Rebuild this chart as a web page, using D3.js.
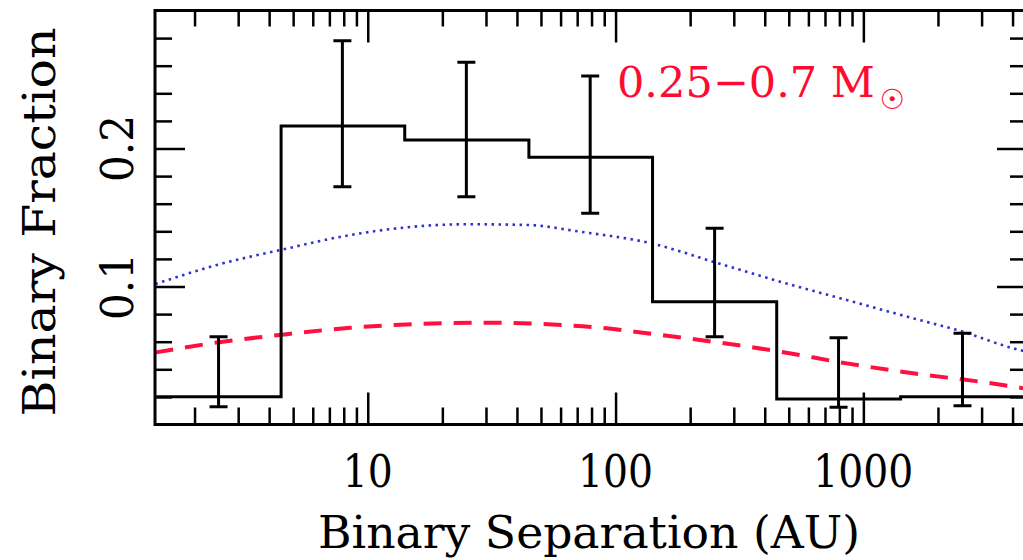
<!DOCTYPE html>
<html>
<head>
<script src="https://d3js.org/d3.v7.min.js"></script>
<style>
    body { margin: 0; background-color: #ffffff; }
    svg { display: block; }
    text { font-family: "DejaVu Serif", serif; fill: #000; }
</style>
</head>
<body>
<div id="chart"></div>
<script>
// histogram: bin edges (AU) and binary fraction per bin
const binEdges = [1.4, 4.47, 14.1, 44.7, 141, 447, 1413, 4470];
const binFrac = [0.0201, 0.2163, 0.2062, 0.1936, 0.0890, 0.0185, 0.0201];

// error bars at bin centres
const errSep = [2.5, 7.9, 25, 79, 251, 794, 2512];
const errLo = [0.0129, 0.1723, 0.1651, 0.1530, 0.0636, 0.0125, 0.0136];
const errHi = [0.0636, 0.2781, 0.2625, 0.2525, 0.1422, 0.0629, 0.0661];

// blue dotted curve
const blueSep = [1.39, 1.56, 2.46, 4.43, 8.5, 14.4, 25, 44, 72, 140, 247, 461, 857, 1585, 2524, 4018, 4490];
const blueFrac = [0.1018, 0.1047, 0.1156, 0.1264, 0.1373, 0.1429, 0.1451, 0.1446, 0.1397, 0.1312, 0.1180, 0.1035, 0.0902, 0.0770, 0.0672, 0.0552, 0.0530];

// red dashed curve
const redSep = [1.39, 2.6, 4.43, 8.5, 15.8, 29, 51, 92, 134, 247, 461, 857, 1585, 2958, 4490];
const redFrac = [0.0522, 0.0600, 0.0649, 0.0701, 0.0728, 0.0738, 0.0728, 0.0697, 0.0661, 0.0600, 0.0528, 0.0443, 0.0371, 0.0310, 0.0261];

// ticks
const xMajor = [10, 100, 1000];
const xMinor = [2, 3, 4, 5, 6, 7, 8, 9, 20, 30, 40, 50, 60, 70, 80, 90,
                200, 300, 400, 500, 600, 700, 800, 900, 2000, 3000, 4000];
const yMajor = [0.1, 0.2];
const yMinor = [0.02, 0.04, 0.06, 0.08, 0.12, 0.14, 0.16, 0.18, 0.22, 0.24, 0.26, 0.28];

const W = 1023, H = 560;
const pLeft = 155, pRight = 1025, pTop = 10.5, pBottom = 424.5;

const svg = d3.select("#chart").append("svg").attr("width", W).attr("height", H);

const x = d3.scaleLog().domain([1.385, 4490]).range([pLeft, pRight]);
const y = d3.scaleLinear().domain([0, 0.3]).range([pBottom, pTop]);

svg.append("clipPath").attr("id", "clip")
    .append("rect").attr("x", pLeft).attr("y", pTop)
    .attr("width", pRight - pLeft).attr("height", pBottom - pTop);

// ticks, all pointing inward
function tickAxis(gen, tx, ty) {
    const g = svg.append("g").attr("transform", `translate(${tx},${ty})`).call(gen);
    g.select(".domain").remove();
    g.selectAll("line").attr("stroke", "#000").attr("stroke-width", 2.5);
    g.selectAll("text").remove();
    return g;
}
tickAxis(d3.axisTop(x).tickValues(xMinor).tickSize(17), 0, pBottom);
tickAxis(d3.axisTop(x).tickValues(xMajor).tickSize(32), 0, pBottom);
tickAxis(d3.axisBottom(x).tickValues(xMinor).tickSize(16), 0, pTop);
tickAxis(d3.axisBottom(x).tickValues(xMajor).tickSize(32), 0, pTop);
tickAxis(d3.axisRight(y).tickValues(yMinor).tickSize(17), pLeft, 0);
tickAxis(d3.axisRight(y).tickValues(yMajor).tickSize(30), pLeft, 0);
tickAxis(d3.axisLeft(y).tickValues(yMinor).tickSize(15), pRight, 0);
tickAxis(d3.axisLeft(y).tickValues(yMajor).tickSize(28), pRight, 0);

const plot = svg.append("g").attr("clip-path", "url(#clip)");

// model curves
const blueLine = d3.line().x((d, i) => x(blueSep[i])).y(d => y(d)).curve(d3.curveMonotoneX);
plot.append("path").attr("d", blueLine(blueFrac))
    .attr("fill", "none").attr("stroke", "#3030cc").attr("stroke-width", 2.6)
    .attr("stroke-dasharray", "2.5,4.5");

const redLine = d3.line().x((d, i) => x(redSep[i])).y(d => y(d)).curve(d3.curveMonotoneX);
plot.append("path").attr("d", redLine(redFrac))
    .attr("fill", "none").attr("stroke", "#ff1040").attr("stroke-width", 4)
    .attr("stroke-dasharray", "18,12");

// histogram
const stepPts = binFrac.map((v, i) => [binEdges[i], v]);
stepPts.push([binEdges[binEdges.length - 1], binFrac[binFrac.length - 1]]);
const stepLine = d3.line().x(d => x(d[0])).y(d => y(d[1])).curve(d3.curveStepAfter);
plot.append("path").attr("d", stepLine(stepPts))
    .attr("fill", "none").attr("stroke", "#000").attr("stroke-width", 3);

// error bars
const eb = plot.append("g").attr("stroke", "#000").attr("stroke-width", 3);
errSep.forEach((s, i) => {
    eb.append("line").attr("x1", x(s)).attr("x2", x(s)).attr("y1", y(errLo[i])).attr("y2", y(errHi[i]));
    [errLo[i], errHi[i]].forEach(v => {
        eb.append("line").attr("x1", x(s) - 9).attr("x2", x(s) + 9).attr("y1", y(v)).attr("y2", y(v));
    });
});

// frame
svg.append("rect").attr("x", pLeft).attr("y", pTop)
    .attr("width", pRight - pLeft).attr("height", pBottom - pTop)
    .attr("fill", "none").attr("stroke", "#000").attr("stroke-width", 3);

// tick labels
xMajor.forEach(v => {
    svg.append("text").attr("x", x(v)).attr("y", 487)
        .attr("text-anchor", "middle").attr("font-size", 45)
        .attr("textLength", String(v).length * 25).attr("lengthAdjust", "spacingAndGlyphs")
        .text(v);
});
yMajor.forEach(v => {
    svg.append("text").attr("transform", `translate(133,${y(v)}) rotate(-90)`)
        .attr("text-anchor", "middle").attr("font-size", 45)
        .attr("textLength", 67).attr("lengthAdjust", "spacingAndGlyphs")
        .text(v.toFixed(1));
});

// axis titles
svg.append("text").attr("x", 589).attr("y", 548)
    .attr("text-anchor", "middle").attr("font-size", 45)
    .attr("textLength", 542).attr("lengthAdjust", "spacingAndGlyphs")
    .text("Binary Separation (AU)");
svg.append("text").attr("transform", "translate(55,222) rotate(-90)")
    .attr("text-anchor", "middle").attr("font-size", 45)
    .attr("textLength", 389).attr("lengthAdjust", "spacingAndGlyphs")
    .text("Binary Fraction");

// mass range label, sun symbol as a lowered tspan
const massLabel = svg.append("text").attr("x", 617).attr("y", 97)
    .attr("font-size", 43).style("fill", "#ff0a30");
massLabel.append("tspan").text("0.25\u22120.7 M");
massLabel.append("tspan")
    .attr("dx", 5).attr("dy", 12).attr("font-size", 28)
    .style("font-family", "'DejaVu Sans'")
    .text("\u2609");
</script>
</body>
</html>
